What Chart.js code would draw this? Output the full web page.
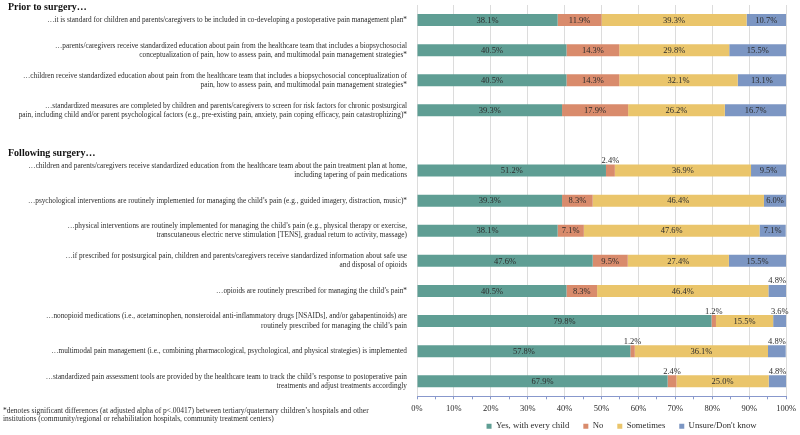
<!DOCTYPE html>
<html>
<head>
<meta charset="utf-8">
<script src="https://cdn.jsdelivr.net/npm/chart.js@4.4.0/dist/chart.umd.min.js"></script>
<style>
	html, body { margin: 0; padding: 0; background: #fff; }
	#wrap { width: 800px; height: 435px; position: relative; }
</style>
</head>
<body>
<div id="wrap"><canvas id="chart"></canvas></div>
<script>
// one empty slot (index 4) holds the "Following surgery…" header
const categories = [
	['…it is standard for children and parents/caregivers to be included in co-developing a postoperative pain management plan*'],
	['…parents/caregivers receive standardized education about pain from the healthcare team that includes a biopsychosocial', 'conceptualization of pain, how to assess pain, and multimodal pain management strategies*'],
	['…children receive standardized education about pain from the healthcare team that includes a biopsychosocial conceptualization of', 'pain, how to assess pain, and multimodal pain management strategies*'],
	['…standardized measures are completed by children and parents/caregivers to screen for risk factors for chronic postsurgical', 'pain, including child and/or parent psychological factors (e.g., pre-existing pain, anxiety, pain coping efficacy, pain catastrophizing)*'],
	'',
	['…children and parents/caregivers receive standardized education from the healthcare team about the pain treatment plan at home,', 'including tapering of pain medications'],
	['…psychological interventions are routinely implemented for managing the child’s pain (e.g., guided imagery, distraction, music)*'],
	['…physical interventions are routinely implemented for managing the child’s pain (e.g., physical therapy or exercise,', 'transcutaneous electric nerve stimulation [TENS], gradual return to activity, massage)'],
	['…if prescribed for postsurgical pain, children and parents/caregivers receive standardized information about safe use', 'and disposal of opioids'],
	['…opioids are routinely prescribed for managing the child’s pain*'],
	['…nonopioid medications (i.e., acetaminophen, nonsteroidal anti-inflammatory drugs [NSAIDs], and/or gabapentinoids) are', 'routinely prescribed for managing the child’s pain'],
	['…multimodal pain management (i.e., combining pharmacological, psychological, and physical strategies) is implemented'],
	['…standardized pain assessment tools are provided by the healthcare team to track the child’s response to postoperative pain', 'treatments and adjust treatments accordingly']
];

const seriesNames = ['Yes, with every child', 'No', 'Sometimes', 'Unsure/Don\'t know'];
const yesValues       = [38.1, 40.5, 40.5, 39.3, null, 51.2, 39.3, 38.1, 47.6, 40.5, 79.8, 57.8, 67.9];
const noValues        = [11.9, 14.3, 14.3, 17.9, null,  2.4,  8.3,  7.1,  9.5,  8.3,  1.2,  1.2,  2.4];
const sometimesValues = [39.3, 29.8, 32.1, 26.2, null, 36.9, 46.4, 47.6, 27.4, 46.4, 15.5, 36.1, 25.0];
const unsureValues    = [10.7, 15.5, 13.1, 16.7, null,  9.5,  6.0,  7.1, 15.5,  4.8,  3.6,  4.8,  4.8];

const xTicks = [0, 10, 20, 30, 40, 50, 60, 70, 80, 90, 100];

const sectionHeaders = ['Prior to surgery…', 'Following surgery…'];
const sectionStarts = [0, 5];
const headerOffsets = [13, 17];
const footnote = [
	'*denotes significant differences (at adjusted alpha of p<.00417) between tertiary/quaternary children’s hospitals and other',
	'institutions (community/regional or rehabilitation hospitals, community treatment centers)'
];

const colors = ['#5f9e94', '#d98b6c', '#eac56b', '#7c96c3'];
const serif = '"Liberation Serif", "DejaVu Serif", serif';
const textColor = '#2b2b2b';
const axisColor = '#8898cc';
const legendPad = 14;

const valueLabels = {
	id: 'valueLabels',
	afterDatasetsDraw(chart) {
		const ctx = chart.ctx;
		ctx.save();
		ctx.font = '8.5px ' + serif;
		ctx.fillStyle = textColor;
		ctx.textAlign = 'center';
		chart.data.datasets.forEach((ds, i) => {
			chart.getDatasetMeta(i).data.forEach((bar, j) => {
				const v = ds.data[j];
				if (v == null) return;
				const p = bar.getProps(['x', 'y', 'base', 'height'], true);
				const cx = (p.x + p.base) / 2;
				const txt = v.toFixed(1) + '%';
				if (v >= 5) {
					ctx.textBaseline = 'middle';
					ctx.fillText(txt, cx, p.y + 0.5);
				} else {
					ctx.textBaseline = 'bottom';
					ctx.fillText(txt, cx, p.y - p.height / 2 + 0.5);
				}
			});
		});
		ctx.restore();
	}
};

const extraText = {
	id: 'extraText',
	afterDraw(chart) {
		const ctx = chart.ctx;
		const yScale = chart.scales.y;
		ctx.save();
		ctx.fillStyle = '#111';
		ctx.textAlign = 'left';
		ctx.textBaseline = 'middle';
		ctx.font = 'bold 10px ' + serif;
		sectionHeaders.forEach((h, i) => {
			ctx.fillText(h, 8, yScale.getPixelForValue(sectionStarts[i]) - headerOffsets[i]);
		});
		ctx.font = '7.5px ' + serif;
		ctx.fillStyle = textColor;
		footnote.forEach((line, i) => {
			ctx.fillText(line, 3, 411 + i * 8.5);
		});
		ctx.restore();
	}
};

// legend row sits centered under the plot area, just below the tick labels
const legendShift = {
	id: 'legendShift',
	afterLayout(chart) {
		const l = chart.legend;
		const a = chart.chartArea;
		const dx = (a.left + a.right) / 2 - (l.left + l.right) / 2 + 20;
		const dy = (a.bottom + 30) - (l.top + legendPad + 4.5);
		l.left += dx;
		l.right += dx;
		l.top += dy;
		l.bottom += dy;
	}
};

new Chart('chart', {
	type: 'bar',
	data: {
		labels: categories,
		datasets: [yesValues, noValues, sometimesValues, unsureValues].map((vals, i) => ({
			label: seriesNames[i],
			data: vals,
			backgroundColor: colors[i],
			borderWidth: 0,
			barPercentage: 0.8,
			categoryPercentage: 0.5
		}))
	},
	options: {
		indexAxis: 'y',
		responsive: true,
		maintainAspectRatio: false,
		animation: false,
		layout: { padding: { left: 2, right: 12, top: 5, bottom: -12 } },
		scales: {
			x: {
				stacked: true,
				min: 0,
				max: 100,
				ticks: {
					stepSize: 5,
					autoSkip: false,
					maxRotation: 0,
					padding: 4,
					color: textColor,
					font: { family: serif, size: 8.5 },
					callback: v => xTicks.includes(v) ? v + '%' : ''
				},
				grid: {
					color: c => (c.tick && c.tick.value % 10 === 0) ? '#dcdcdc' : 'rgba(0,0,0,0)',
					tickColor: axisColor,
					tickLength: 3
				},
				border: { color: axisColor },
				afterFit: s => { s.height = 18; }
			},
			y: {
				stacked: true,
				grid: { display: false, drawTicks: false, tickLength: 0 },
				border: { display: false },
				ticks: {
					autoSkip: false,
					padding: 10,
					color: textColor,
					font: { family: serif, size: 7.3, lineHeight: 1.25 }
				},
				afterFit: s => {
					s.width = 415;
					s.paddingTop = 0;
					s.paddingBottom = 0;
				}
			}
		},
		plugins: {
			legend: {
				position: 'bottom',
				labels: {
					boxWidth: 5,
					boxHeight: 5,
					padding: legendPad,
					color: textColor,
					font: { family: serif, size: 8.7 }
				}
			},
			tooltip: { enabled: false }
		}
	},
	plugins: [valueLabels, extraText, legendShift]
});
</script>
</body>
</html>
